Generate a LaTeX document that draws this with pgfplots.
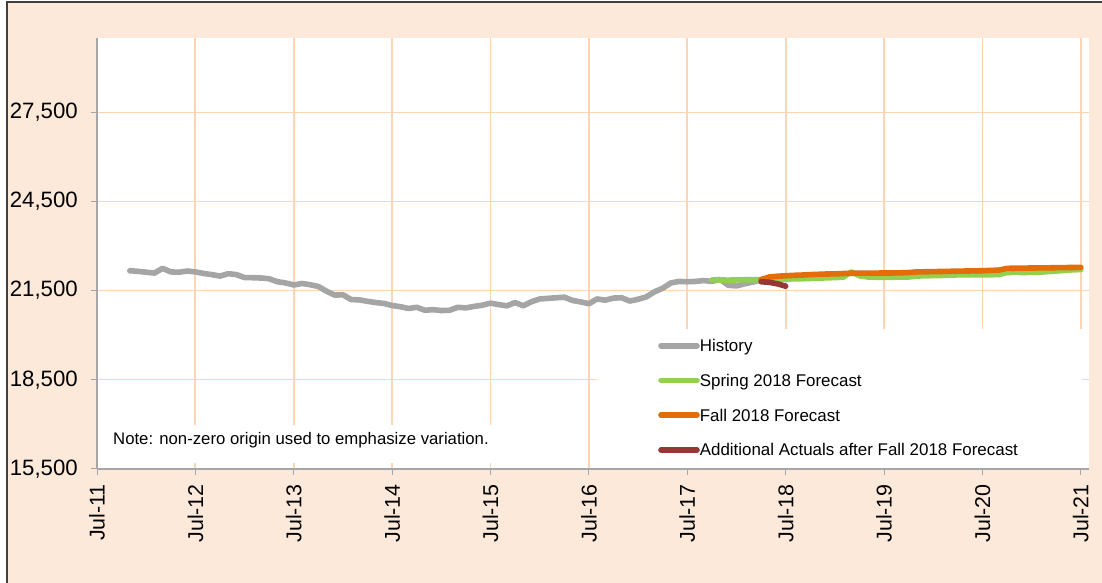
\documentclass[border=0pt]{standalone}
\usepackage{fontspec}
\setmainfont{Liberation Sans}
\usepackage{pgfplots}
\usepackage{pgfplotstable}
\pgfplotsset{compat=1.18}
\definecolor{peach}{HTML}{FDE9D9}
\definecolor{gridc}{HTML}{FCD5B4}
\definecolor{axgray}{HTML}{A6A6A6}
\definecolor{framec}{HTML}{404040}
\definecolor{histc}{HTML}{A5A5A5}
\definecolor{springc}{HTML}{92D050}
\definecolor{fallc}{HTML}{E46C0A}
\definecolor{actc}{HTML}{953735}

\pgfplotstableread{
m v
4 22170
5 22150
6 22120
7 22090
8 22250
9 22130
10 22120
11 22160
12 22130
13 22080
14 22040
15 21990
16 22070
17 22040
18 21940
19 21935
20 21925
21 21900
22 21800
23 21760
24 21690
25 21740
26 21700
27 21640
28 21480
29 21350
30 21360
31 21200
32 21190
33 21140
34 21100
35 21070
36 21000
37 20960
38 20900
39 20940
40 20840
41 20860
42 20830
43 20840
44 20940
45 20920
46 20970
47 21010
48 21080
49 21030
50 20990
51 21100
52 20990
53 21130
54 21220
55 21240
56 21260
57 21280
58 21170
59 21120
60 21060
61 21220
62 21180
63 21250
64 21260
65 21150
66 21210
67 21290
68 21460
69 21580
70 21760
71 21810
72 21800
73 21810
74 21840
75 21810
76 21880
77 21680
78 21660
79 21730
80 21790
81 21860
}\history

\pgfplotstableread{
m v
75 21860
76 21860
77 21855
78 21860
79 21865
80 21865
81 21870
82 21875
83 21880
84 21890
85 21895
86 21900
87 21910
88 21920
89 21930
90 21940
91 21950
92 22130
93 22000
94 21960
95 21950
96 21950
97 21950
98 21955
99 21960
100 21990
101 22000
102 22005
103 22010
104 22020
105 22030
106 22035
107 22035
108 22035
109 22035
110 22040
111 22110
112 22115
113 22110
114 22115
115 22120
116 22140
117 22160
118 22180
119 22200
120 22210
}\spring

\pgfplotstableread{
m v
81 21870
82 21960
83 21985
84 22000
85 22015
86 22025
87 22040
88 22050
89 22060
90 22065
91 22075
92 22085
93 22090
94 22090
95 22090
96 22095
97 22095
98 22100
99 22110
100 22130
101 22135
102 22140
103 22145
104 22150
105 22155
106 22160
107 22165
108 22170
109 22180
110 22190
111 22250
112 22255
113 22258
114 22262
115 22265
116 22268
117 22272
118 22275
119 22280
120 22282
}\fall

\pgfplotstableread{
m v
81 21800
82 21780
83 21730
84 21650
}\actuals

\begin{document}
\begin{tikzpicture}[x=1bp,y=1bp]
\path[use as bounding box] (0,0) rectangle (1102,583);
\fill[white] (0,0) rectangle (1102,583);
\fill[peach] (7,0) rectangle (1102,580.5);
\draw[framec, line width=2bp] (7.3,0) -- (7.3,580.5) -- (1102,580.5);
\begin{axis}[
  at={(97bp,114bp)}, anchor=south west,
  scale only axis, width=992bp, height=431bp,
  xmin=0, xmax=121, ymin=15500, ymax=30000,
  axis background/.style={fill=white},
  axis x line*=bottom, axis y line*=left,
  axis line style={-, draw=axgray, line width=1.3bp},
  xtick={0,12,...,120},
  xticklabels={Jul-11,Jul-12,Jul-13,Jul-14,Jul-15,Jul-16,Jul-17,Jul-18,Jul-19,Jul-20,Jul-21},
  ytick={15500,18500,21500,24500,27500},
  scaled y ticks=false,
  /pgf/number format/1000 sep={,},
  /pgf/number format/assume math mode=true,
  grid=major,
  x grid style={draw=gridc, line width=1.8bp},
  y grid style={draw=gridc, line width=1.1bp},
  tick align=outside,
  major tick length=6bp,
  tick style={draw=axgray, line width=1bp},
  yticklabel style={font=\fontsize{22.3}{25}\selectfont, inner sep=0pt, xshift=-13bp},
  xticklabel style={font=\fontsize{21.5}{24}\selectfont, rotate=90, anchor=east, inner sep=0pt, xshift=-9bp},
  legend style={at={(0.5655,0.3005)}, anchor=north west, draw=none, fill=none,
    inner sep=0pt, row sep=22.5bp, column sep=0bp,
    font=\fontsize{17}{20}\selectfont,
    nodes={inner sep=0pt, text height=12.2bp, text depth=0pt}},
  legend cell align=left,
  legend image code/.code={\draw[#1, line cap=round] (0bp,0bp) -- (36bp,0bp);},
  every axis plot/.append style={line width=5.6bp, line join=round, line cap=round},
]
\fill[white] (axis cs:0.37,15701) rectangle (axis cs:49.2,16975);
\fill[white] (axis cs:61,15533) rectangle (axis cs:120.2,20226);
\node[anchor=base west, font=\fontsize{16.8}{20}\selectfont, inner sep=0pt] at (axis cs:1.95,16338) {Note: non-zero origin used to emphasize variation.};
\addplot[histc] table[x=m, y=v] {\history};
\addlegendentry{History}
\addplot[springc] table[x=m, y=v] {\spring};
\addlegendentry{Spring 2018 Forecast}
\addplot[fallc] table[x=m, y=v] {\fall};
\addlegendentry{Fall 2018 Forecast}
\addplot[actc] table[x=m, y=v] {\actuals};
\addlegendentry{Additional Actuals after Fall 2018 Forecast}
\end{axis}
\end{tikzpicture}
\end{document}
